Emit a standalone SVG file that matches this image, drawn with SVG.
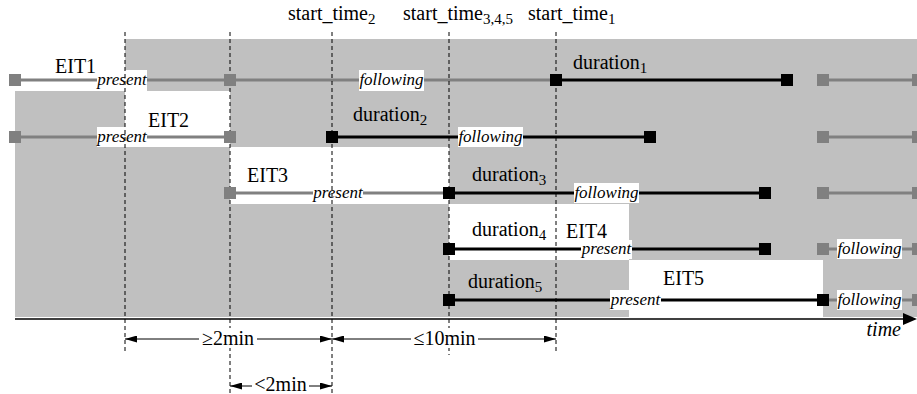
<svg xmlns="http://www.w3.org/2000/svg" width="917" height="394" viewBox="0 0 917 394" font-family="Liberation Serif, Times New Roman, serif">
<defs>
<style>
text{font-family:"Liberation Serif","Times New Roman",serif;fill:#000}
.t{font-size:20px}
.sub{font-size:15px}
.it{font-size:17px;font-style:italic}
.lbl{fill:#fff}
.dash{stroke:#000;stroke-width:1;stroke-dasharray:4 3;fill:none}
.gl{stroke:#808080;stroke-width:3;fill:none}
.bl{stroke:#000;stroke-width:3;fill:none}
.gs{fill:#808080}
.bs{fill:#000}
.dim{stroke:#000;stroke-width:1;fill:none;marker-start:url(#ah);marker-end:url(#ah)}
</style>
<marker id="ah" viewBox="0 0 12 7" refX="12" refY="3.5" markerWidth="12" markerHeight="7" markerUnits="userSpaceOnUse" orient="auto-start-reverse">
<path d="M0,0 L12,3.5 L0,7 Z" fill="#000"/>
</marker>
</defs>
<rect id="background" x="15" y="39" width="902" height="278" fill="#c0c0c0"/>
<g id="EIT1"><rect x="0" y="39" width="125" height="52" fill="#fff"/><text class="t" x="55" y="73">EIT1</text></g>
<g id="EIT2"><rect x="125" y="91" width="105" height="56" fill="#fff"/><text class="t" x="148" y="127">EIT2</text></g>
<g id="EIT3"><rect x="230" y="147" width="219" height="57" fill="#fff"/><text class="t" x="247" y="182">EIT3</text></g>
<g id="EIT4"><rect x="449" y="204" width="180" height="56" fill="#fff"/><text class="t" x="566" y="238">EIT4</text></g>
<g id="EIT5"><rect x="629" y="260" width="194" height="57" fill="#fff"/><text class="t" x="663" y="285">EIT5</text></g>
<g id="connectors">
<line class="gl" x1="15" y1="80" x2="556" y2="80"/>
<line class="bl" x1="556" y1="80" x2="787" y2="80"/>
<line class="gl" x1="823" y1="80" x2="918" y2="80"/>
<line class="gl" x1="15" y1="137" x2="230" y2="137"/>
<line class="bl" x1="332" y1="137" x2="650" y2="137"/>
<line class="gl" x1="823" y1="137" x2="918" y2="137"/>
<line class="gl" x1="230" y1="193" x2="449" y2="193"/>
<line class="bl" x1="449" y1="193" x2="765" y2="193"/>
<line class="gl" x1="823" y1="193" x2="918" y2="193"/>
<line class="bl" x1="449" y1="249" x2="765" y2="249"/>
<line class="gl" x1="823" y1="249" x2="918" y2="249"/>
<line class="bl" x1="449" y1="300" x2="823" y2="300"/>
<line class="gl" x1="823" y1="300" x2="918" y2="300"/>
</g>
<g id="labels">
<rect class="lbl" x="97" y="70" width="50" height="21"/><text class="it" x="122" y="85" text-anchor="middle">present</text>
<rect class="lbl" x="359" y="70" width="65" height="21"/><text class="it" x="391.5" y="85" text-anchor="middle">following</text>
<rect class="lbl" x="97" y="127" width="50" height="20"/><text class="it" x="122" y="142" text-anchor="middle">present</text>
<rect class="lbl" x="458" y="127" width="65" height="20"/><text class="it" x="490.5" y="142" text-anchor="middle">following</text>
<rect class="lbl" x="313" y="183" width="50" height="20"/><text class="it" x="338" y="198" text-anchor="middle">present</text>
<rect class="lbl" x="574" y="183" width="65" height="20"/><text class="it" x="606.5" y="198" text-anchor="middle">following</text>
<rect class="lbl" x="581" y="240" width="51" height="19"/><text class="it" x="606.5" y="254" text-anchor="middle">present</text>
<rect class="lbl" x="837" y="239" width="65" height="20"/><text class="it" x="869.5" y="254" text-anchor="middle">following</text>
<rect class="lbl" x="610" y="290" width="51" height="20"/><text class="it" x="635.5" y="305" text-anchor="middle">present</text>
<rect class="lbl" x="837" y="290" width="65" height="20"/><text class="it" x="869.5" y="305" text-anchor="middle">following</text>
<text class="t" x="573" y="69">duration<tspan class="sub" dy="4">1</tspan></text>
<text class="t" x="353" y="121">duration<tspan class="sub" dy="4">2</tspan></text>
<text class="t" x="472" y="181">duration<tspan class="sub" dy="4">3</tspan></text>
<text class="t" x="472" y="236">duration<tspan class="sub" dy="4">4</tspan></text>
<text class="t" x="468" y="288">duration<tspan class="sub" dy="4">5</tspan></text>
<text class="t" x="288" y="20">start_time<tspan class="sub" dy="4">2</tspan></text>
<text class="t" x="403" y="20">start_time<tspan class="sub" dy="4">3,4,5</tspan></text>
<text class="t" x="528" y="20">start_time<tspan class="sub" dy="4">1</tspan></text>
</g>
<g id="guides">
<line class="dash" x1="125" y1="32" x2="125" y2="352"/>
<line class="dash" x1="230" y1="32" x2="230" y2="394"/>
<line class="dash" x1="332" y1="32" x2="332" y2="394"/>
<line class="dash" x1="449" y1="32" x2="449" y2="355"/>
<line class="dash" x1="556" y1="32" x2="556" y2="353"/>
</g>
<g id="squares">
<rect class="gs" x="9" y="74" width="12" height="12"/><rect class="gs" x="224" y="74" width="12" height="12"/><rect class="bs" x="550" y="74" width="12" height="12"/><rect class="bs" x="781" y="74" width="12" height="12"/><rect class="gs" x="817" y="74" width="12" height="12"/><rect class="gs" x="912" y="74" width="12" height="12"/>
<rect class="gs" x="9" y="131" width="12" height="12"/><rect class="gs" x="224" y="131" width="12" height="12"/><rect class="bs" x="326" y="131" width="12" height="12"/><rect class="bs" x="644" y="131" width="12" height="12"/><rect class="gs" x="817" y="131" width="12" height="12"/><rect class="gs" x="912" y="131" width="12" height="12"/>
<rect class="gs" x="224" y="187" width="12" height="12"/><rect class="bs" x="443" y="187" width="12" height="12"/><rect class="bs" x="759" y="187" width="12" height="12"/><rect class="gs" x="817" y="187" width="12" height="12"/><rect class="gs" x="912" y="187" width="12" height="12"/>
<rect class="bs" x="443" y="243" width="12" height="12"/><rect class="bs" x="759" y="243" width="12" height="12"/><rect class="gs" x="817" y="243" width="12" height="12"/><rect class="gs" x="912" y="243" width="12" height="12"/>
<rect class="bs" x="443" y="294" width="12" height="12"/><rect class="bs" x="817" y="294" width="12" height="12"/><rect class="gs" x="912" y="294" width="12" height="12"/>
</g>
<g id="axis">
<line x1="15" y1="319" x2="905" y2="319" stroke="#000" stroke-width="1.5"/>
<path d="M903,313 L917,319 L903,325 Z" fill="#000"/>
<text class="t" x="901" y="336" text-anchor="end" font-style="italic">time</text>
</g>
<g id="dimensions">
<line class="dim" x1="125" y1="339" x2="332" y2="339"/>
<line class="dim" x1="332" y1="339" x2="556" y2="339"/>
<line class="dim" x1="230" y1="386" x2="332" y2="386"/>
<rect x="199" y="328" width="58" height="20" fill="#fff"/><text class="t" x="228" y="345" text-anchor="middle">≥2min</text>
<rect x="411" y="328" width="67" height="20" fill="#fff"/><text class="t" x="444.5" y="345" text-anchor="middle">≤10min</text>
<rect x="252" y="376" width="57" height="18" fill="#fff"/><text class="t" x="280.5" y="391" text-anchor="middle">&lt;2min</text>
</g>
</svg>
